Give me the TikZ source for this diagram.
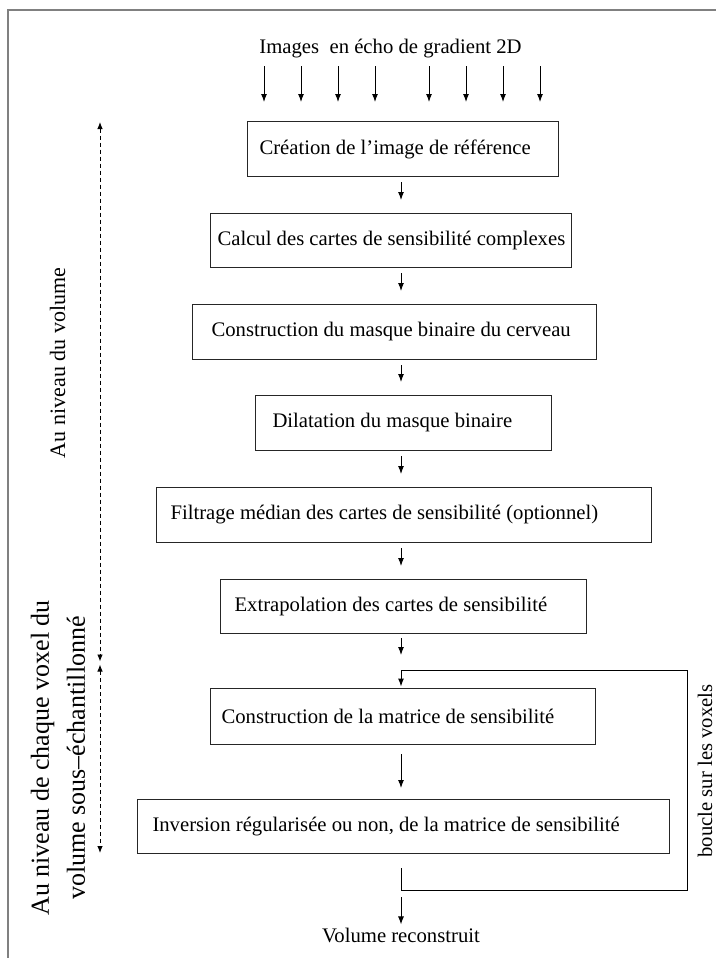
\documentclass[tikz,border=0pt]{standalone}
\usepackage{fontspec}
\setmainfont{Liberation Serif}
\usetikzlibrary{arrows.meta,calc}
\newcommand\boxfont{\fontsize{20.7}{24}\selectfont}
\begin{document}
\begin{tikzpicture}[x=1pt,y=-1pt,
  stepbox/.style={draw=black!85, line width=1pt, anchor=north west, inner ysep=0pt, font=\boxfont},
  arr/.style={draw=black, line width=1pt, -{Latex[length=8pt,width=6pt]}},
  loopline/.style={draw=black, line width=1pt, line join=miter},
  darr/.style={draw=black, line width=0.9pt, dash pattern=on 4pt off 3pt, {Latex[length=7pt,width=5.5pt]}-{Latex[length=7pt,width=5.5pt]}},
  lbl/.style={font=\boxfont, inner sep=0pt},
  frame/.style={draw=black!50, line width=1.5pt}]
\useasboundingbox (0,0) rectangle (716,958);
\draw[frame] (8,958) -- (8,10) -- (716,10);

\node[lbl, anchor=base] (title) at (390.5,53) {Images\ \ en écho de gradient 2D};

\node[stepbox, inner xsep=12pt, minimum height=55pt] (b1) at (247,121) {\makebox[287pt][l]{Création de l’image de référence}};
\node[stepbox, inner xsep=7pt, minimum height=54pt] (b2) at (210,213) {\makebox[347pt][l]{Calcul des cartes de sensibilité complexes}};
\node[stepbox, inner xsep=19pt, minimum height=55pt] (b3) at (192,304) {\makebox[366pt][l]{Construction du masque binaire du cerveau}};
\node[stepbox, inner xsep=17pt, minimum height=55pt] (b4) at (255,395) {\makebox[262pt][l]{Dilatation du masque binaire}};
\node[stepbox, inner xsep=14pt, minimum height=55pt] (b5) at (156,487) {\makebox[467pt][l]{Filtrage médian des cartes de sensibilité (optionnel)}};
\node[stepbox, inner xsep=14pt, minimum height=54pt] (b6) at (220,579) {\makebox[338pt][l]{Extrapolation des cartes de sensibilité}};
\node[stepbox, inner xsep=11pt, minimum height=56pt] (b7) at (210,688) {\makebox[363pt][l]{Construction de la matrice de sensibilité}};
\node[stepbox, inner xsep=15pt, minimum height=54pt] (b8) at (137,799) {\makebox[502pt][l]{Inversion régularisée ou non, de la matrice de sensibilité}};

\foreach \xx in {264,301,338,375,429,466,503,540} {
  \coordinate (c\xx) at (\xx,0);
  \draw[arr, shorten <=8.5pt, shorten >=19pt] (title.south -| c\xx) -- (b1.north -| c\xx);
}

\coordinate (ax) at (401,0);
\draw[arr, shorten <=5pt, shorten >=13pt] (b1.south -| ax) -- (b2.north -| ax);
\draw[arr, shorten <=5pt, shorten >=13pt] (b2.south -| ax) -- (b3.north -| ax);
\draw[arr, shorten <=5pt, shorten >=13pt] (b3.south -| ax) -- (b4.north -| ax);
\draw[arr, shorten <=5pt, shorten >=13pt] (b4.south -| ax) -- (b5.north -| ax);
\draw[arr, shorten <=5pt, shorten >=13pt] (b5.south -| ax) -- (b6.north -| ax);

\coordinate (ltop) at (401,670);
\coordinate (ltr) at (687,670);
\coordinate (lbr) at (687,890);
\coordinate (lbl) at (401,890);
\draw[arr, shorten <=4pt, shorten >=15pt] (b6.south -| ax) -- (ltop);
\draw[arr, shorten >=1.5pt] (ltop) -- (b7.north -| ax);
\draw[arr, shorten <=9pt, shorten >=11pt] (b7.south -| ax) -- (b8.north -| ax);
\draw[loopline, shorten <=14pt] (b8.south -| ax) -- (lbl) -- (lbr) -- (ltr) -- (ltop);

\node[lbl, anchor=base] (vol) at (401,942) {Volume reconstruit};
\draw[arr, shorten <=7pt, shorten >=3pt] (lbl) -- (vol.north);

\node[lbl, rotate=90] (boucle) at (705,771) {boucle sur les voxels};

\node[rotate=90, inner sep=0pt, font=\fontsize{22}{26}\selectfont] (vollab) at (57.5,363) {Au niveau du volume};
\node[rotate=90, inner sep=0pt, align=center, font=\fontsize{26}{36}\selectfont] (voxlab) at (58,758) {Au niveau de chaque voxel du\\volume sous–échantillonné};

\coordinate (dtop) at (100,122);
\coordinate (dmid) at (100,663);
\coordinate (dbot) at (100,853);
\draw[darr, shorten >=1.5pt] (dtop) -- (dmid);
\draw[darr, shorten <=1.5pt] (dmid) -- (dbot);
\end{tikzpicture}
\end{document}
